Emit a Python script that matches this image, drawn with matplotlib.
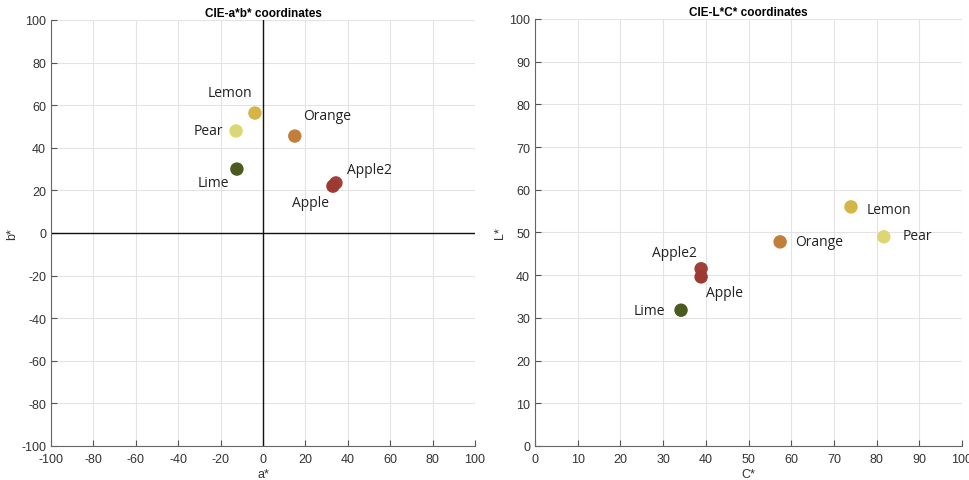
import matplotlib.pyplot as plt
import numpy as np

plt.rcParams['axes.unicode_minus'] = False
plt.rcParams['font.family'] = ['Liberation Sans', 'DejaVu Sans']

fruits = ['Lemon', 'Pear', 'Orange', 'Lime', 'Apple2', 'Apple']
colors = ['#d4b545', '#dcd774', '#c27f3a', '#4b5a1f', '#a0403a', '#9c3a32']
a_star = [-3.8, -12.7, 15.0, -12.3, 34.4, 33.0]
b_star = [56.3, 47.9, 45.5, 30.0, 23.5, 22.0]
c_star = [74.0, 81.7, 57.4, 34.2, 38.9, 38.9]
l_star = [56.0, 49.0, 47.8, 31.8, 41.5, 39.6]

# label offsets in points
ab_offsets = [(-18, 15), (-20, 0), (23, 15), (-17, -10), (24, 10), (-16, -12)]
lc_offsets = [(27, -2), (24, 1), (28, 0), (-23, 0), (-19, 12), (17, -11)]

fig = plt.figure(figsize=(9.69, 4.81), dpi=100)
ax1 = fig.add_axes([0.0526, 0.0707, 0.4376, 0.8857])
ax2 = fig.add_axes([0.5521, 0.0707, 0.4407, 0.8878])

def style(ax):
    ax.grid(True, color='#e3e3e3', linewidth=0.8)
    ax.set_axisbelow(True)
    for s in ['top', 'right']:
        ax.spines[s].set_visible(False)
    for s in ['left', 'bottom']:
        ax.spines[s].set_color('#666666')
        ax.spines[s].set_linewidth(0.8)
    ax.tick_params(direction='in', length=4, colors='#555555', labelsize=9,
                   labelcolor='#333333')
    ax.tick_params(axis='x', pad=5)

lab_font = dict(family=['Open Sans', 'DejaVu Sans'], fontsize=10, color='#222222')

style(ax1)
ax1.set_xlim(-100, 100)
ax1.set_ylim(-100, 100)
ax1.set_xticks(np.arange(-100, 101, 20))
ax1.set_yticks(np.arange(-100, 101, 20))
ax1.axhline(0, color='#111111', linewidth=1)
ax1.axvline(0, color='#111111', linewidth=1)
ax1.scatter(a_star, b_star, s=75, c=colors, zorder=3)
for i, name in enumerate(fruits):
    ax1.annotate(name, (a_star[i], b_star[i]), xytext=ab_offsets[i],
                 textcoords='offset points', ha='center', va='center', **lab_font)
ax1.set_title('CIE-a*b* coordinates', fontsize=8.5, fontweight='bold', pad=3)
ax1.set_xlabel('a*', fontsize=9, color='#333333', labelpad=2)
ax1.set_ylabel('b*', fontsize=9, color='#333333', labelpad=2)

style(ax2)
ax2.set_xlim(0, 100)
ax2.set_ylim(0, 100)
ax2.set_xticks(np.arange(0, 101, 10))
ax2.set_yticks(np.arange(0, 101, 10))
ax2.scatter(c_star, l_star, s=75, c=colors, zorder=3)
for i, name in enumerate(fruits):
    ax2.annotate(name, (c_star[i], l_star[i]), xytext=lc_offsets[i],
                 textcoords='offset points', ha='center', va='center', **lab_font)
ax2.set_title('CIE-L*C* coordinates', fontsize=8.5, fontweight='bold', pad=3)
ax2.set_xlabel('C*', fontsize=9, color='#333333', labelpad=2)
ax2.set_ylabel('L*', fontsize=9, color='#333333', labelpad=2)

plt.savefig('out.png', dpi=100)
